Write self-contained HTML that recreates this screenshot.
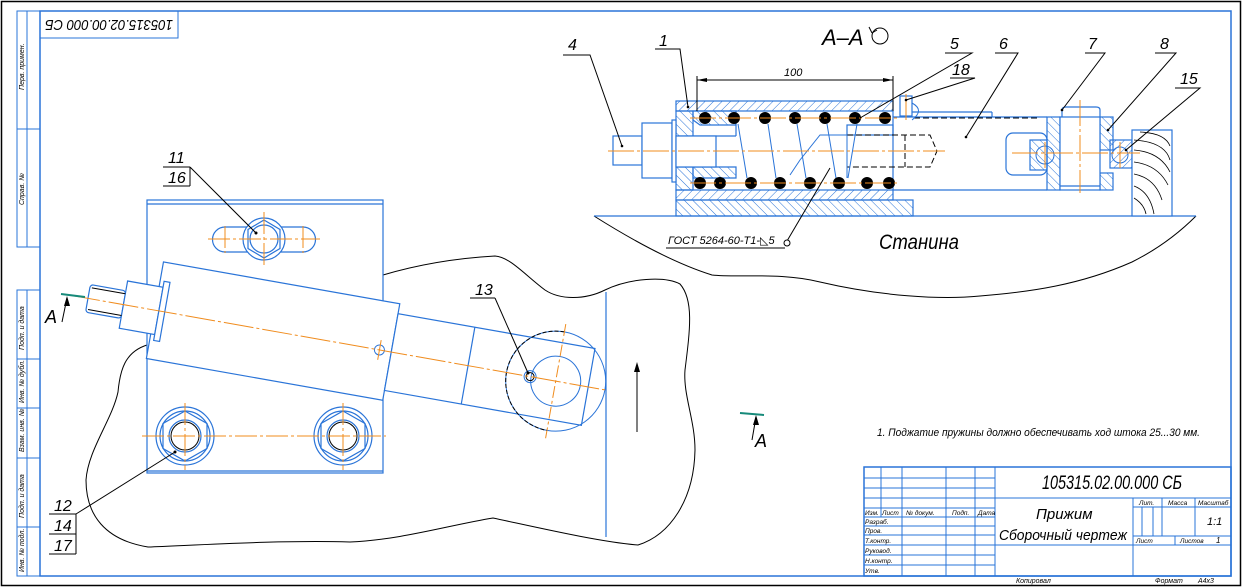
<!DOCTYPE html>
<html><head><meta charset="utf-8"><style>
html,body{margin:0;padding:0;background:#fff}
svg{display:block}
text{font-family:"Liberation Sans","DejaVu Sans",sans-serif;font-style:italic;fill:#000}
</style></head><body>
<svg width="1243" height="588" viewBox="0 0 1243 588" xmlns="http://www.w3.org/2000/svg">
<defs>
<pattern id="h1" width="6" height="6" patternUnits="userSpaceOnUse" patternTransform="rotate(45)"><line x1="0" y1="0" x2="0" y2="6" stroke="#2a74d8" stroke-width="1"/></pattern>
<pattern id="h2" width="6" height="6" patternUnits="userSpaceOnUse" patternTransform="rotate(-45)"><line x1="0" y1="0" x2="0" y2="6" stroke="#2a74d8" stroke-width="1"/></pattern>
</defs>
<g fill="none" stroke-width="1">
<rect x="1.5" y="1.5" width="1239" height="584" stroke="#000" stroke-width="1.5"/>
<rect x="40" y="11" width="1191" height="565" stroke="#2a74d8" stroke-width="1.5"/>
<g stroke="#2a74d8">
<rect x="17" y="11" width="23" height="236"/><line x1="27" y1="11" x2="27" y2="247"/><line x1="17" y1="129" x2="40" y2="129"/>
<rect x="17" y="290" width="23" height="286"/><line x1="27" y1="290" x2="27" y2="576"/>
<line x1="17" y1="359" x2="40" y2="359"/><line x1="17" y1="408" x2="40" y2="408"/><line x1="17" y1="458" x2="40" y2="458"/><line x1="17" y1="527" x2="40" y2="527"/>
<rect x="40" y="11" width="138" height="27"/>
</g>
</g>
<g font-size="7">
<text transform="translate(24,90) rotate(-90)">Перв. примен.</text>
<text transform="translate(24,205) rotate(-90)">Справ. №</text>
<text transform="translate(24,350) rotate(-90)">Подп. и дата</text>
<text transform="translate(24,403) rotate(-90)">Инв. № дубл.</text>
<text transform="translate(24,452) rotate(-90)">Взам. инв. №</text>
<text transform="translate(24,518) rotate(-90)">Подп. и дата</text>
<text transform="translate(24,572) rotate(-90)">Инв. № подл.</text>
</g>
<text transform="translate(173,20) rotate(180)" font-size="15" textLength="128" lengthAdjust="spacingAndGlyphs">105315.02.00.000 СБ</text>

<!-- LEFT VIEW -->
<path d="M147,345 C125,352 120,370 118,392 C112,420 88,450 86,480 C86,515 105,540 148,547 C200,545 280,540 350,542 C400,540 450,525 493,518 C540,528 600,542 638,545 C670,535 694,500 695,450 C695,420 683,395 685,370 C690,330 694,300 680,284 C665,276 630,278 605,290 C585,300 560,300 545,290 C525,275 510,257 495,256 C460,258 420,264 383,275" fill="none" stroke="#000"/>
<g stroke="#2a74d8" fill="none" stroke-width="1.2">
<rect x="147" y="200" width="236" height="273"/><line x1="147" y1="204" x2="383" y2="204"/><line x1="147" y1="471" x2="383" y2="471"/>
<line x1="606" y1="292" x2="606" y2="537"/>
<path d="M225,227 L303,227 A12.5,12.5 0 0 1 303,252 L225,252 A12.5,12.5 0 0 1 225,227 Z"/>
<circle cx="264" cy="239" r="21" fill="#fff"/>
<polygon points="264,220 280,229.5 280,248.5 264,258 248,248.5 248,229.5"/>
<circle cx="264" cy="239" r="14"/>
<circle cx="185" cy="436" r="29"/><circle cx="185" cy="436" r="25"/>
<polygon points="185,411 207,423.5 207,448.5 185,461 163,448.5 163,423.5"/>
<circle cx="185" cy="436" r="16"/>
<circle cx="343" cy="436" r="29"/><circle cx="343" cy="436" r="25"/>
<polygon points="343,411 365,423.5 365,448.5 343,461 321,448.5 321,423.5"/>
<circle cx="343" cy="436" r="16"/>
</g>
<circle cx="185" cy="436" r="14" stroke="#000" fill="none"/>
<circle cx="343" cy="436" r="14" stroke="#000" fill="none"/>
<g stroke="#f08c1e" stroke-dasharray="22,3,3,3" fill="none">
<line x1="142" y1="436" x2="386" y2="436"/>
<line x1="185" y1="403" x2="185" y2="470"/><line x1="343" y1="403" x2="343" y2="470"/>
<line x1="208" y1="239" x2="320" y2="239"/><line x1="264" y1="212" x2="264" y2="268"/>
<line x1="225" y1="226" x2="225" y2="253"/><line x1="303" y1="226" x2="303" y2="253"/>
</g>
<g transform="rotate(10.04 86 298)">
<g stroke="#2a74d8" fill="#fff" stroke-width="1.2">
<rect x="156" y="249" width="240" height="98"/>
<rect x="396" y="259" width="200" height="78"/>
<line x1="474" y1="259" x2="474" y2="337"/>
<rect x="88" y="284" width="36" height="28" rx="3"/>
<rect x="124" y="274" width="36" height="48"/>
<rect x="160" y="268" width="6" height="60"/>
</g>
<g stroke="#000" fill="none"><line x1="90" y1="287" x2="124" y2="287"/><line x1="90" y1="309" x2="124" y2="309"/></g>
<circle cx="563" cy="298" r="50" stroke="#2a74d8" fill="none"/>
<path d="M563,248 A50,50 0 0 0 513,298 A50,50 0 0 0 563,348" stroke="#000" stroke-dasharray="4,2" fill="none"/>
<circle cx="563" cy="298" r="25" stroke="#2a74d8" fill="none"/>
<circle cx="384" cy="298" r="5" stroke="#2a74d8" fill="none"/>
<circle cx="537" cy="298" r="6" stroke="#2a74d8" fill="none"/>
<circle cx="537" cy="298" r="4" stroke="#000" fill="none"/>
<line x1="70" y1="298" x2="615" y2="298" stroke="#f08c1e" stroke-dasharray="30,3,3,3"/>
<line x1="563" y1="240" x2="563" y2="356" stroke="#f08c1e" stroke-dasharray="12,3,3,3"/>
<line x1="384" y1="288" x2="384" y2="308" stroke="#f08c1e"/>
</g>
<g stroke="#000" fill="none">
<line x1="163" y1="167" x2="190" y2="167"/><line x1="163" y1="186" x2="190" y2="186"/><line x1="190" y1="167" x2="190" y2="186"/>
<line x1="190" y1="167" x2="256" y2="233"/>
<line x1="49" y1="514" x2="76" y2="514"/><line x1="49" y1="534" x2="76" y2="534"/><line x1="49" y1="554" x2="76" y2="554"/><line x1="76" y1="514" x2="76" y2="554"/>
<line x1="76" y1="514" x2="175" y2="452"/>
<line x1="470" y1="298" x2="495" y2="298"/><line x1="495" y1="298" x2="528" y2="373"/>
<line x1="637" y1="432" x2="637" y2="368"/>
<line x1="62" y1="322" x2="67" y2="298"/><line x1="752" y1="440" x2="756" y2="417"/>
</g>
<polygon points="637,362 634,372 640,372" fill="#000"/>
<polygon points="67,296 64,306 70,306" fill="#000"/>
<polygon points="756,415 753,425 759,425" fill="#000"/>
<circle cx="256" cy="233" r="1.5" fill="#000"/><circle cx="175" cy="452" r="1.5" fill="#000"/><circle cx="528" cy="373" r="1.5" fill="#000"/>
<line x1="61" y1="294" x2="85" y2="297" stroke="#168a7a" stroke-width="2"/>
<line x1="740" y1="413" x2="764" y2="415" stroke="#168a7a" stroke-width="2"/>
<g font-size="16">
<text x="168" y="163">11</text><text x="168" y="183">16</text>
<text x="54" y="511">12</text><text x="54" y="531">14</text><text x="54" y="551">17</text>
<text x="475" y="295">13</text>
</g>
<text x="45" y="323" font-size="18" font-style="normal">A</text>
<text x="755" y="447" font-size="18" font-style="normal">A</text>

<!-- SECTION A-A -->
<path d="M594,216 C640,245 680,265 712,275 C740,278 780,272 820,282 C880,296 940,300 980,296 C1030,292 1080,285 1132,262 C1160,248 1180,232 1196,216" stroke="#000" fill="none"/>
<line x1="594" y1="216" x2="1196" y2="216" stroke="#2a74d8" stroke-width="1.3"/>
<g stroke="#2a74d8" stroke-width="1.2">
<rect x="676" y="101" width="217" height="10" fill="url(#h1)"/>
<rect x="676" y="190" width="217" height="10" fill="url(#h1)"/>
<rect x="676" y="200" width="237" height="16" fill="url(#h2)"/>
<path d="M676,111 L693,111 L693,136 L676,136 Z" fill="url(#h2)"/>
<path d="M676,167 L693,167 L693,190 L676,190 Z" fill="url(#h2)"/>
<path d="M693,111 L736,111 L736,125 L700,125 L693,120 Z" fill="url(#h2)"/>
<path d="M693,167 L736,167 L736,178 L693,178 Z" fill="url(#h2)"/>
<line x1="693" y1="136" x2="736" y2="136"/><line x1="736" y1="125" x2="736" y2="136"/>
<rect x="847" y="125" width="46" height="10" fill="#fff"/>
<line x1="893" y1="111" x2="893" y2="190"/>
<path d="M893,117 L1047,117 M893,190 L1047,190 M992,112 L992,117" fill="none"/>
<line x1="912" y1="112" x2="992" y2="112"/>
<rect x="1006" y="133" width="41" height="42" rx="7" fill="#fff"/>
<rect x="1030" y="140" width="17" height="30" fill="url(#h2)"/>
<rect x="1047" y="117" width="13" height="73" fill="url(#h2)"/>
<rect x="1100" y="117" width="13" height="33" fill="url(#h2)"/>
<rect x="1100" y="173" width="13" height="17" fill="url(#h2)"/>
<path d="M1062,117 L1062,110 Q1062,107 1066,107 L1096,107 Q1100,107 1100,110 L1100,117" fill="#fff"/>
<rect x="1060" y="117" width="40" height="73" fill="#fff"/>
<line x1="1060" y1="186" x2="1100" y2="186"/>
<rect x="1110" y="140" width="22" height="28" fill="url(#h1)"/>
<rect x="1132" y="130" width="40" height="86" fill="#fff"/>
<rect x="613" y="136" width="29" height="29" fill="#fff"/>
<rect x="642" y="123" width="30" height="55" fill="#fff"/>
<rect x="672" y="120" width="4" height="62" fill="#fff"/>
<rect x="676" y="136" width="40" height="31" fill="#fff"/>
<rect x="900" y="96" width="12" height="20" fill="#fff"/>
</g>
<circle cx="1045" cy="155" r="9" stroke="#2a74d8" fill="none"/>
<circle cx="1120" cy="155" r="8" stroke="#2a74d8" fill="none"/>
<g stroke="#000" fill="none" stroke-width="0.8">
<path d="M1134,140 Q1165,142 1170,160"/><path d="M1134,150 Q1160,152 1170,172"/><path d="M1134,162 Q1158,165 1168,185"/>
<path d="M1134,174 Q1155,178 1162,200"/><path d="M1134,186 Q1150,192 1154,214"/><path d="M1134,198 Q1144,204 1146,214"/>
<path d="M1140,132 Q1165,133 1170,146"/>
</g>
<g stroke="#000" stroke-width="1" stroke-dasharray="6,3" fill="none">
<path d="M847,135 L930,135 L937,151 L930,167 L847,167"/>
<line x1="905" y1="135" x2="905" y2="167"/>
<line x1="914" y1="118" x2="1040" y2="118"/>
</g>
<path d="M912,103 Q925,110 912,120" stroke="#2a74d8" fill="none"/>
<g stroke="#2a74d8" fill="none">
<line x1="705" y1="125" x2="720" y2="125"/>
<path d="M738,124 L747,178 M768,124 L776,178 M797,124 L806,178 M827,124 L836,178 M857,124 L848,178"/>
<line x1="847" y1="125" x2="847" y2="178"/>
<path d="M847,135 L820,135 Q812,145 800,160 L790,175"/>
</g>
<g fill="#000">
<circle cx="705" cy="118" r="6"/><circle cx="734" cy="118" r="6"/><circle cx="765" cy="118" r="6"/><circle cx="795" cy="118" r="6"/><circle cx="825" cy="118" r="6"/><circle cx="855" cy="118" r="6"/><circle cx="885" cy="118" r="6"/>
<circle cx="700" cy="183" r="6"/><circle cx="720" cy="183" r="6"/><circle cx="751" cy="183" r="6"/><circle cx="780" cy="183" r="6"/><circle cx="810" cy="183" r="6"/><circle cx="839" cy="183" r="6"/><circle cx="867" cy="183" r="6"/><circle cx="889" cy="183" r="6"/>
</g>
<g stroke="#f08c1e" stroke-dasharray="26,3,3,3" fill="none">
<line x1="608" y1="151" x2="945" y2="151"/>
<line x1="1012" y1="153" x2="1140" y2="153"/>
<line x1="690" y1="118" x2="900" y2="118"/>
<line x1="690" y1="183" x2="900" y2="183"/>
<line x1="1080" y1="100" x2="1080" y2="193"/>
<line x1="906" y1="94" x2="906" y2="120"/>
<line x1="1045" y1="142" x2="1045" y2="168"/><line x1="1120" y1="142" x2="1120" y2="168"/>
</g>
<g stroke="#000" fill="none">
<line x1="697" y1="80" x2="893" y2="80"/><line x1="697" y1="76" x2="697" y2="111"/><line x1="893" y1="76" x2="893" y2="111"/>
</g>
<polygon points="697,80 707,78 707,82" fill="#000"/><polygon points="893,80 883,78 883,82" fill="#000"/>
<text x="784" y="76" font-size="11">100</text>
<g stroke="#000" fill="none">
<path d="M563,55 L590,55 L622,146"/>
<path d="M655,49 L680,49 L688,107"/>
<path d="M945,53 L972,53 L860,118"/>
<path d="M995,53 L1018,53 L966,137"/>
<path d="M1085,53 L1105,53 L1062,110"/>
<path d="M1155,53 L1176,53 L1108,130"/>
<path d="M1175,88 L1200,88 L1126,150"/>
<path d="M950,78 L975,78 L906,100"/>
<path d="M666,248 L785,248"/>
<path d="M787,241 L830,168"/>
</g>
<circle cx="787" cy="243" r="3" stroke="#000" fill="#fff"/>
<g fill="#000"><circle cx="622" cy="146" r="1.3"/><circle cx="688" cy="107" r="1.3"/><circle cx="966" cy="137" r="1.3"/><circle cx="1062" cy="110" r="1.3"/><circle cx="1108" cy="130" r="1.3"/><circle cx="1126" cy="150" r="1.3"/><circle cx="906" cy="100" r="1.3"/></g>
<g font-size="16">
<text x="568" y="50">4</text><text x="659" y="46">1</text><text x="950" y="49">5</text><text x="999" y="49">6</text>
<text x="1088" y="49">7</text><text x="1160" y="49">8</text><text x="1180" y="84">15</text><text x="952" y="75">18</text>
</g>
<text x="668" y="244" font-size="11">ГОСТ 5264-60-Т1-◺5</text>
<text x="879" y="249" font-size="21" textLength="80" lengthAdjust="spacingAndGlyphs">Станина</text>
<text x="822" y="45" font-size="22" font-style="normal">A–A</text>
<circle cx="880" cy="36" r="8" stroke="#000" fill="none"/>
<path d="M872,33 L869,27 M872,33 L877,30" stroke="#000" fill="none"/>

<text x="877" y="436" font-size="11" textLength="323" lengthAdjust="spacingAndGlyphs">1. Поджатие пружины должно обеспечивать ход штока 25...30 мм.</text>

<g stroke="#2a74d8" fill="none">
<rect x="864" y="467" width="367" height="109" stroke-width="1.5"/>
<line x1="995" y1="467" x2="995" y2="576"/><line x1="1133" y1="498" x2="1133" y2="576"/>
<line x1="864" y1="498" x2="1231" y2="498"/><line x1="995" y1="545" x2="1231" y2="545"/>
<line x1="881" y1="467" x2="881" y2="517"/><line x1="902" y1="467" x2="902" y2="576"/><line x1="946" y1="467" x2="946" y2="576"/><line x1="975" y1="467" x2="975" y2="576"/>
<line x1="864" y1="478" x2="995" y2="478"/><line x1="864" y1="488" x2="995" y2="488"/><line x1="864" y1="508" x2="995" y2="508"/><line x1="864" y1="517" x2="995" y2="517"/><line x1="864" y1="526" x2="995" y2="526"/><line x1="864" y1="535" x2="995" y2="535"/><line x1="864" y1="545" x2="995" y2="545"/><line x1="864" y1="555" x2="995" y2="555"/><line x1="864" y1="565" x2="995" y2="565"/>
<line x1="1133" y1="507" x2="1231" y2="507"/><line x1="1133" y1="536" x2="1231" y2="536"/>
<line x1="1162" y1="498" x2="1162" y2="536"/><line x1="1195" y1="498" x2="1195" y2="536"/>
<line x1="1142" y1="507" x2="1142" y2="536"/><line x1="1153" y1="507" x2="1153" y2="536"/>
<line x1="1175" y1="536" x2="1175" y2="545"/>
</g>
<g font-size="6.5">
<text x="865" y="515">Изм.</text><text x="882" y="515">Лист</text><text x="906" y="515">№ докум.</text><text x="952" y="515">Подп.</text><text x="978" y="515">Дата</text>
<text x="865" y="524">Разраб.</text><text x="865" y="533">Пров.</text><text x="865" y="543">Т.контр.</text><text x="865" y="553">Руковод.</text><text x="865" y="563">Н.контр.</text><text x="865" y="573">Утв.</text>
<text x="1139" y="505">Лит.</text><text x="1168" y="505">Масса</text><text x="1198" y="505">Масштаб</text>
<text x="1136" y="543">Лист</text><text x="1180" y="543">Листов</text>
</g>
<text x="1216" y="543" font-size="8">1</text>
<text x="1207" y="525" font-size="11">1:1</text>
<text x="1042" y="489" font-size="19" textLength="140" lengthAdjust="spacingAndGlyphs">105315.02.00.000 СБ</text>
<text x="1036" y="519" font-size="15">Прижим</text>
<text x="999" y="540" font-size="15" textLength="128" lengthAdjust="spacingAndGlyphs">Сборочный чертеж</text>
<text x="1016" y="583" font-size="7">Копировал</text>
<text x="1155" y="583" font-size="7">Формат</text><text x="1198" y="583" font-size="7">A4x3</text>
</svg>
</body></html>
